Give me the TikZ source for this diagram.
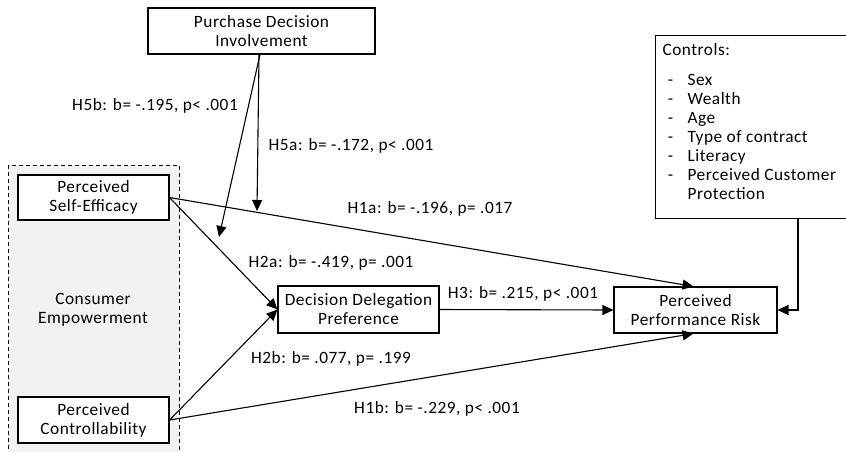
\documentclass[tikz,border=0pt]{standalone}
\usepackage{fontspec}
\setmainfont{Carlito}[LetterSpace=3]
\usetikzlibrary{arrows.meta}
\begin{document}
\begin{tikzpicture}[x=1pt,y=-1pt,
  font=\fontsize{17.3}{19}\selectfont,
  line width=1.1pt,
  box/.style={draw,rectangle,inner sep=0pt,align=center},
  lbl/.style={inner sep=0pt,anchor=center},
  arr/.style={-{Triangle[length=11pt,width=10pt]}}]
\useasboundingbox (0,0) rectangle (846,451);
\clip (0,0) rectangle (846,451);
% consumer empowerment group
\draw[fill=gray!10,dash pattern=on 4pt off 3pt,line width=1pt] (8.5,165) rectangle (179,460);
\node[lbl,align=center] (ce) at (93,310) {Consumer\\Empowerment};
% constructs
\node[box,fill=white,minimum width=227pt,minimum height=46pt] (pdi) at (261.5,31) {Purchase Decision\\Involvement};
\node[box,fill=white,minimum width=151pt,minimum height=45pt] (pse) at (93.5,197.5) {Perceived\\Self-Efficacy};
\node[box,fill=white,minimum width=151pt,minimum height=46pt] (pco) at (93.5,420) {Perceived\\Controllability};
\node[box,minimum width=161pt,minimum height=47pt] (ddp) at (358.5,309.5) {Decision Delegation\\Preference};
\node[box,minimum width=163pt,minimum height=46pt] (ppr) at (695.5,310) {Perceived\\Performance Risk};
% controls
\node[box,minimum width=200pt,minimum height=183pt,anchor=north west] (ctrl) at (655,35) {};
\node[inner sep=0pt,anchor=north west,align=left] (ctrltxt) at (662,43)
  {Controls:\\[11pt]
   \makebox[16pt][c]{-}\hspace{9pt}Sex\\
   \makebox[16pt][c]{-}\hspace{9pt}Wealth\\
   \makebox[16pt][c]{-}\hspace{9pt}Age\\
   \makebox[16pt][c]{-}\hspace{9pt}Type of contract\\
   \makebox[16pt][c]{-}\hspace{9pt}Literacy\\
   \makebox[16pt][c]{-}\hspace{9pt}Perceived Customer\\
   \makebox[16pt][c]{}\hspace{9pt}Protection};
% connector end points
\coordinate (c0) at ([xshift=143pt]ctrl.south west);
\coordinate (s5a) at ([xshift=-2.5pt]pdi.south);
\coordinate (s5b) at ([xshift=-1.5pt]pdi.south);
\coordinate (t5a) at (257,211);
\coordinate (t5b) at (219,237);
% paths
\draw[arr] (pse.east) -- ([xshift=-2pt]ppr.north);
\draw[arr] (pco.east) -- ([xshift=-2pt]ppr.south);
\draw[arr] (pse.east) -- (ddp.west);
\draw[arr] (pco.east) -- (ddp.west);
\draw[arr] (ddp.east) -- (ppr.west);
\draw[arr] (c0) |- (ppr.east);
\draw[arr] (s5a) -- (t5a);
\draw[arr] (s5b) -- (t5b);
% labels
\node[lbl] (l5b) at (155,106) {H5b: b= -.195, p< .001};
\node[lbl] (l5a) at (351,146) {H5a: b= -.172, p< .001};
\node[lbl] (l1a) at (430,209) {H1a: b= -.196, p= .017};
\node[lbl] (l2a) at (331,263) {H2a: b= -.419, p= .001};
\node[lbl] (l3) at (523,294) {H3: b= .215, p< .001};
\node[lbl] (l2b) at (331,359) {H2b: b= .077, p= .199};
\node[lbl] (l1b) at (437,409) {H1b: b= -.229, p< .001};
\end{tikzpicture}
\end{document}
